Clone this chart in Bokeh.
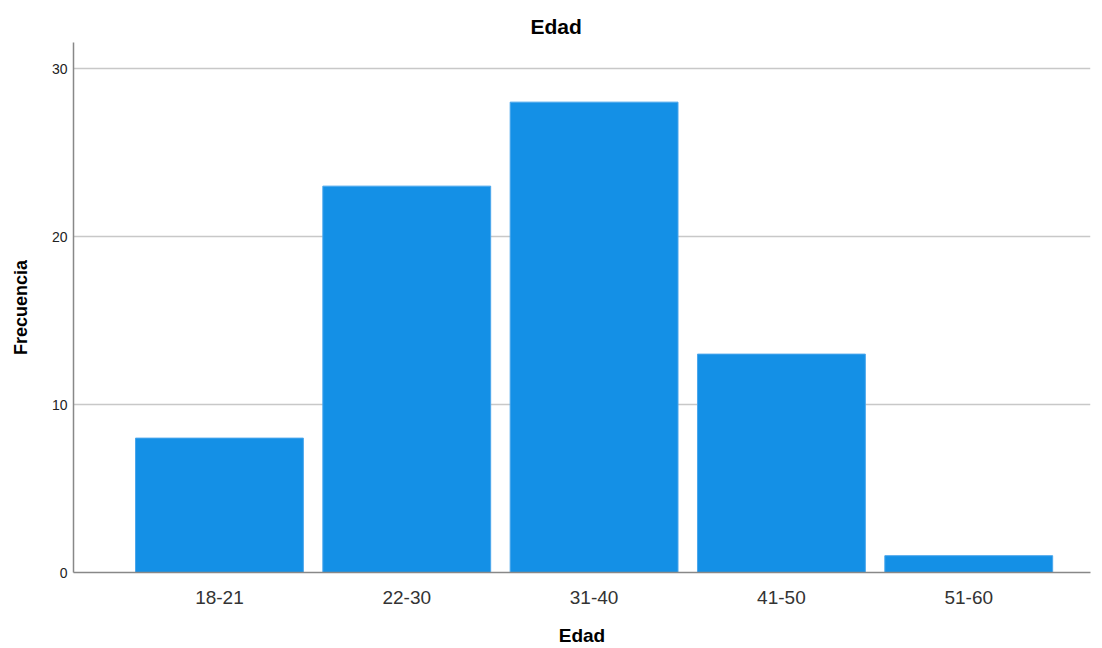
from bokeh.plotting import figure
from bokeh.models import FixedTicker, Range1d, Title
from bokeh.embed import file_html
from bokeh.resources import INLINE

categories = ["18-21", "22-30", "31-40", "41-50", "51-60"]
counts = [8, 23, 28, 13, 1]
y_ticks = [0, 10, 20, 30]

xs = list(range(len(categories)))
FONT = "Liberation Sans"

p = figure(width=1094, height=648, output_backend="svg", toolbar_location=None,
           x_range=Range1d(-0.779, 4.65), y_range=Range1d(0, 31.55),
           min_border_left=73, min_border_right=4, min_border_top=42, min_border_bottom=75)
p.title = None
p.add_layout(Title(text="Edad", align="left", offset=457, text_font=FONT,
                   text_font_size="21px", text_font_style="bold", text_color="#000000"), "above")

p.vbar(x=xs, top=counts, width=0.896, bottom=0, fill_color="#1490E6",
       line_color="#4aa6ec", line_width=1)

p.outline_line_color = None
p.background_fill_color = "white"
p.border_fill_color = "white"

p.xgrid.grid_line_color = None
p.ygrid.grid_line_color = "#c8c8c8"
p.ygrid.grid_line_width = 1.5
p.ygrid.ticker = FixedTicker(ticks=y_ticks)

p.yaxis.ticker = FixedTicker(ticks=y_ticks)
p.yaxis.major_tick_out = 0
p.yaxis.major_tick_in = 0
p.yaxis.minor_tick_out = 0
p.yaxis.minor_tick_in = 0
p.yaxis.axis_line_color = "#888888"
p.yaxis.axis_line_width = 1.5
p.yaxis.major_label_text_font = FONT
p.yaxis.major_label_text_font_size = "14px"
p.yaxis.major_label_text_color = "#222222"
p.yaxis.major_label_standoff = 6
p.yaxis.axis_label = "Frecuencia"
p.yaxis.axis_label_text_font = FONT
p.yaxis.axis_label_text_font_size = "18px"
p.yaxis.axis_label_text_font_style = "bold"
p.yaxis.axis_label_text_color = "#000000"
p.yaxis.axis_label_standoff = 18

p.xaxis.ticker = FixedTicker(ticks=xs)
p.xaxis.major_label_overrides = {i: c for i, c in enumerate(categories)}
p.xaxis.major_tick_out = 0
p.xaxis.major_tick_in = 0
p.xaxis.minor_tick_out = 0
p.xaxis.minor_tick_in = 0
p.xaxis.axis_line_color = "#888888"
p.xaxis.axis_line_width = 1.5
p.xaxis.major_label_text_font = FONT
p.xaxis.major_label_text_font_size = "19px"
p.xaxis.major_label_text_color = "#333333"
p.xaxis.major_label_standoff = 18
p.xaxis.axis_label = "Edad"
p.xaxis.axis_label_text_font = FONT
p.xaxis.axis_label_text_font_size = "19px"
p.xaxis.axis_label_text_font_style = "bold"
p.xaxis.axis_label_text_color = "#000000"
p.xaxis.axis_label_standoff = 18

open("out.html", "w").write(file_html(p, INLINE))
